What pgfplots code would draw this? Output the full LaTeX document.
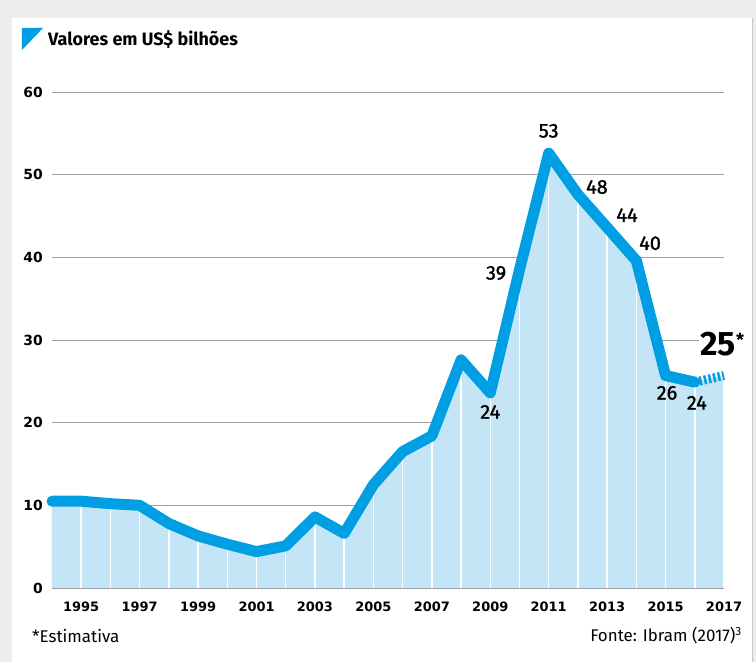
\documentclass[border=0pt]{standalone}
\usepackage{fontspec}
\setmainfont{Fira Sans}
\newfontfamily\dejavu{DejaVu Sans}
\newfontfamily\medfont[FakeBold=1.2]{Fira Sans}
\usepackage{pgfplots}
\pgfplotsset{compat=1.18}

\definecolor{lineblue}{HTML}{009FE3}
\definecolor{areablue}{HTML}{C4E5F5}
\definecolor{gridgray}{HTML}{A0A0A0}
\definecolor{bggray}{HTML}{ECECEC}

\begin{document}
\begin{tikzpicture}[x=1bp,y=1bp]
  % page background and white panel
  \fill[bggray] (-52,-74) rectangle (704,588);
  \fill[white] (-40,-74) rectangle (700,570);
  \draw[gridgray!60, line width=1bp] (700.5,-74) -- (700.5,570);

  % title
  \fill[lineblue] (-30,560) -- (-9,560) -- (-30,538) -- cycle;
  \node[anchor=west, inner sep=0pt, font=\fontsize{18}{21}\selectfont\bfseries] at (-4,548) {Valores em US\$ bilhões};

  \begin{axis}[
      at={(0,0)}, anchor=origin,
      scale only axis,
      width=672bp, height=496bp,
      xmin=1994, xmax=2017,
      ymin=0, ymax=60,
      axis x line*=bottom,
      axis y line*=left,
      x axis line style={draw=gridgray, line width=1bp, -},
      y axis line style={draw=none},
      ytick={0,10,...,60},
      xtick={1995,1997,...,2017},
      major tick length=0pt,
      ymajorgrids,
      grid style={draw=gridgray, line width=0.8bp},
      /pgf/number format/assume math mode=true,
      xticklabel style={font=\dejavu\bfseries\fontsize{13}{15}\selectfont,
        /pgf/number format/1000 sep=, anchor=north, inner sep=0pt, yshift=-14bp},
      yticklabel style={font=\dejavu\bfseries\fontsize{14}{16}\selectfont,
        anchor=east, inner sep=0pt, xshift=-9bp},
      clip=false,
    ]
    % area under the series, 2017 estimated
    \addplot[fill=areablue, draw=none] coordinates {
      (1994,10.5) (1995,10.5) (1996,10.2) (1997,10.0) (1998,7.8) (1999,6.3)
      (2000,5.3) (2001,4.4) (2002,5.1) (2003,8.6) (2004,6.6) (2005,12.5)
      (2006,16.5) (2007,18.4) (2008,27.6) (2009,23.6) (2010,38.5) (2011,52.6)
      (2012,47.6) (2013,43.6) (2014,39.6) (2015,25.7) (2016,24.9) (2017,25.7)
    } \closedcycle;
    % white year separators
    \addplot[ycomb, draw=white, line width=1.5bp, mark=none] coordinates {
      (1995,10.5) (1996,10.2) (1997,10.0) (1998,7.8) (1999,6.3)
      (2000,5.3) (2001,4.4) (2002,5.1) (2003,8.6) (2004,6.6) (2005,12.5)
      (2006,16.5) (2007,18.4) (2008,27.6) (2009,23.6) (2010,38.5) (2011,52.6)
      (2012,47.6) (2013,43.6) (2014,39.6) (2015,25.7) (2016,24.9) (2017,25.7)
    };
    % estimate, hatched
    \addplot[draw=lineblue, line width=9bp, dash pattern=on 2.5bp off 2.2bp] coordinates {
      (2016,24.9) (2017,25.7)
    };
    % main series
    \addplot[draw=lineblue, line width=11bp, line join=round, line cap=round] coordinates {
      (1994,10.5) (1995,10.5) (1996,10.2) (1997,10.0) (1998,7.8) (1999,6.3)
      (2000,5.3) (2001,4.4) (2002,5.1) (2003,8.6) (2004,6.6) (2005,12.5)
      (2006,16.5) (2007,18.4) (2008,27.6) (2009,23.6) (2010,38.5) (2011,52.6)
      (2012,47.6) (2013,43.6) (2014,39.6) (2015,25.7) (2016,24.9)
    };

    \begin{scope}[every node/.style={font=\medfont\fontsize{20}{22}\selectfont, inner sep=0pt}]
      \node at (axis cs:2011.0,55.3) {53};
      \node at (axis cs:2012.65,48.5) {48};
      \node at (axis cs:2013.68,45.1) {44};
      \node at (axis cs:2014.47,41.7) {40};
      \node at (axis cs:2009.2,38.1) {39};
      \node at (axis cs:2009.0,21.3) {24};
      \node at (axis cs:2015.05,23.6) {26};
      \node at (axis cs:2016.07,22.4) {24};
    \end{scope}
    \node[fill=white, inner sep=1bp, font=\fontsize{34}{36}\selectfont\bfseries]
      at (axis cs:2016.8,29.5) {25\rlap{\raisebox{9bp}{\fontsize{18}{18}\selectfont*}}};
  \end{axis}

  % footnotes
  \node[anchor=west, inner sep=0pt, font=\fontsize{17}{19}\selectfont] at (-20,-48) {*Estimativa};
  \node[anchor=east, inner sep=0pt, font=\fontsize{17}{19}\selectfont] at (690,-48) {Fonte: Ibram (2017)\textsuperscript{3}};

  \pgfresetboundingbox
  \path (-52,-74) rectangle (704,588);
\end{tikzpicture}
\end{document}
